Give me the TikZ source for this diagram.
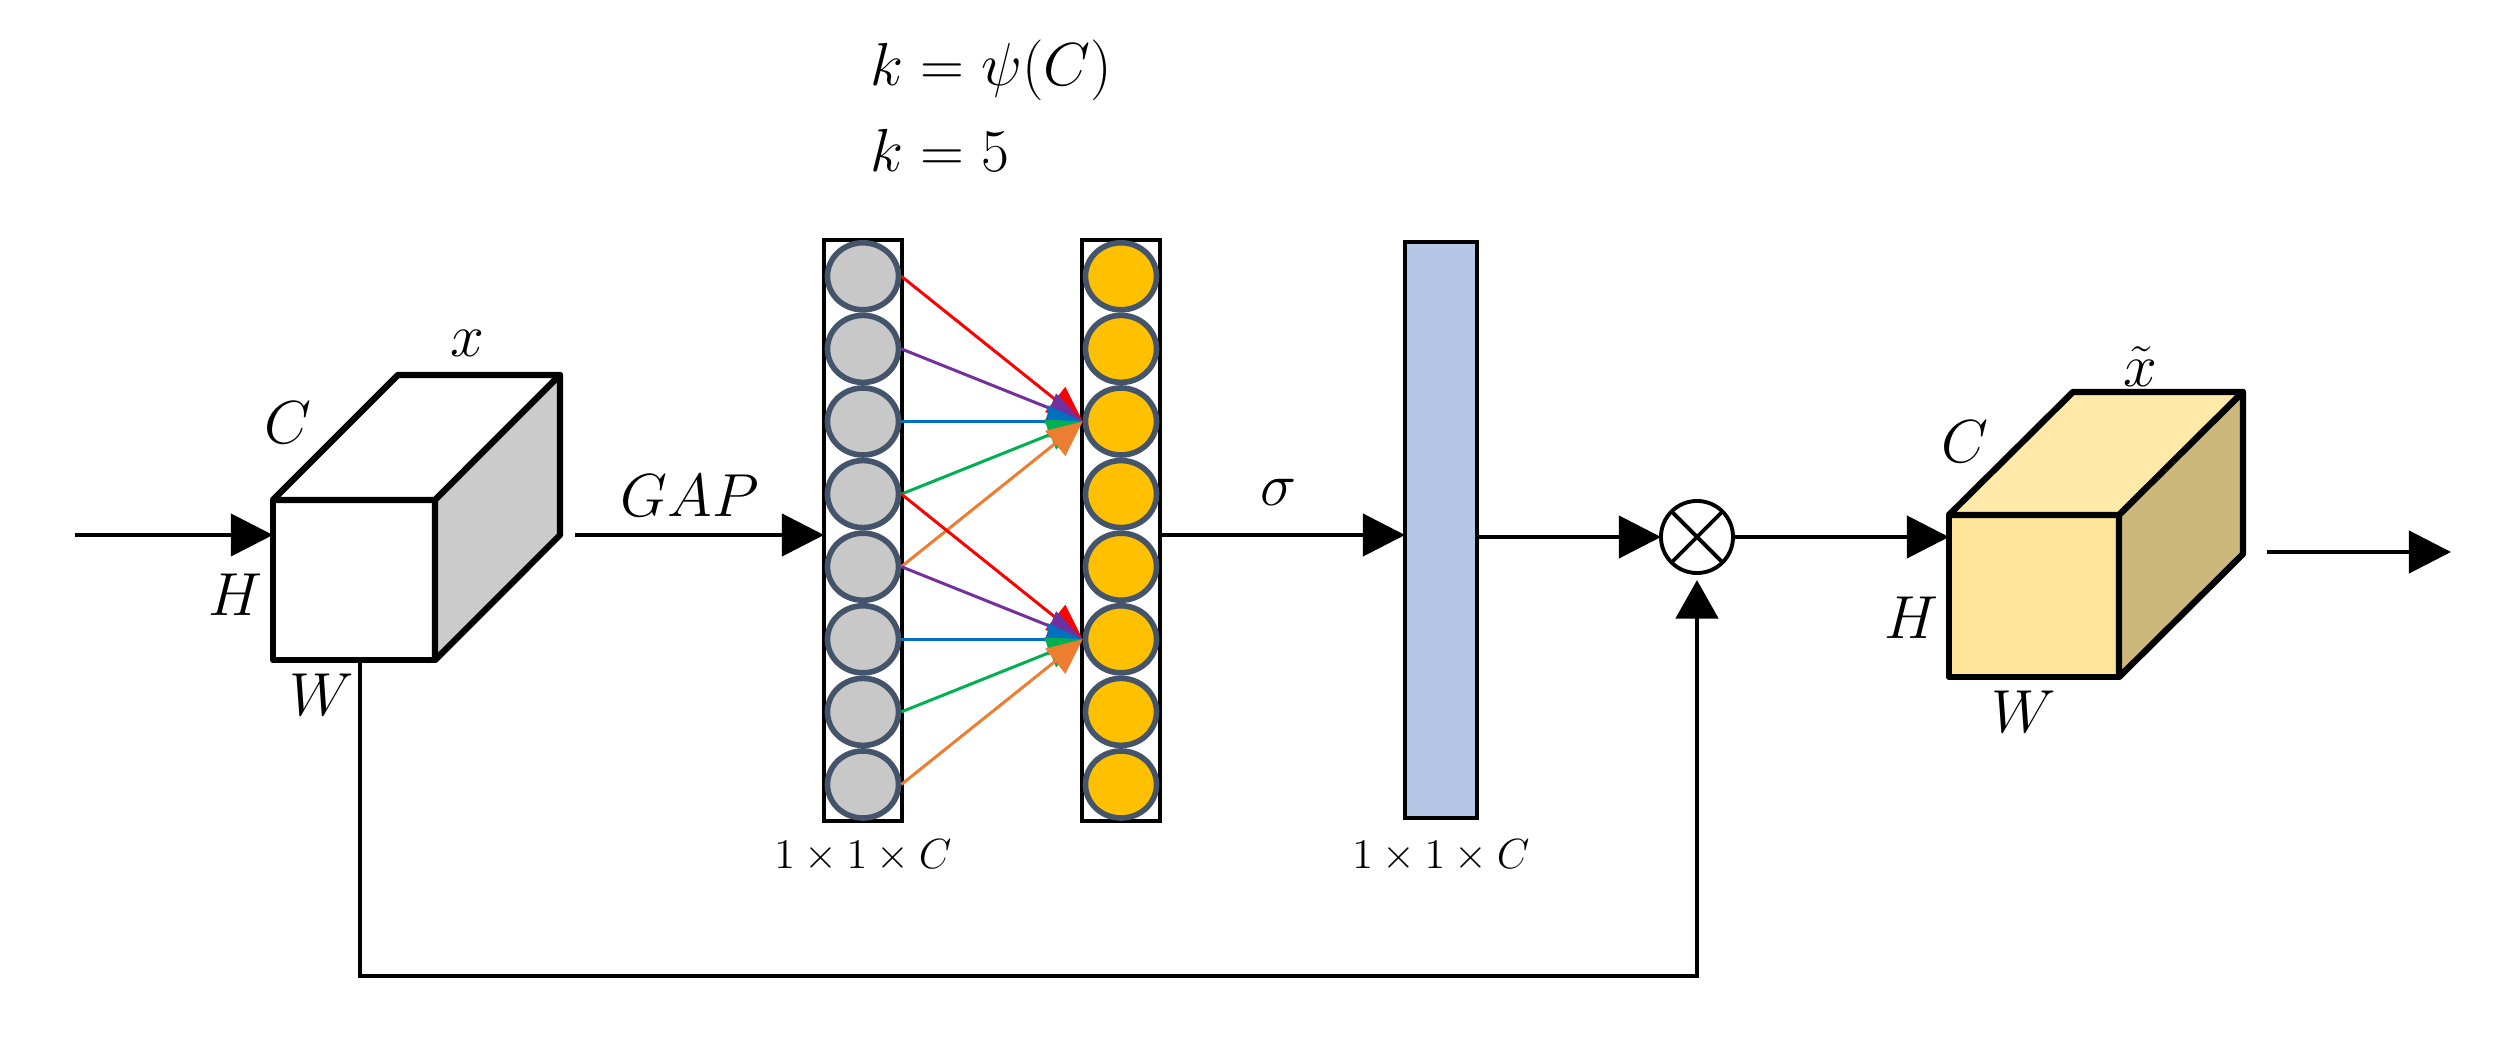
\documentclass[tikz,border=0pt]{standalone}
\usetikzlibrary{arrows.meta,shapes.geometric}
\definecolor{slate}{HTML}{44546A}
\definecolor{neurongray}{HTML}{C8C8C8}
\definecolor{neurongold}{HTML}{FFC000}
\definecolor{barblue}{HTML}{B4C7E7}
\definecolor{sidegray}{HTML}{CBCBCB}
\definecolor{goldfront}{HTML}{FFE599}
\definecolor{goldtop}{HTML}{FFE9A9}
\definecolor{goldside}{HTML}{CDB87B}
\definecolor{kred}{HTML}{FF0000}
\definecolor{kpurple}{HTML}{7030A0}
\definecolor{kblue}{HTML}{0070C0}
\definecolor{kgreen}{HTML}{00B050}
\definecolor{korange}{HTML}{ED7D31}
\begin{document}
\begin{tikzpicture}[x=0.01cm,y=-0.01cm,
  flow/.style={line width=1.15pt,-{Triangle[length=12pt,width=12pt]}},
  cubeedge/.style={line width=1.8pt, line join=round},
  lbl/.style={font=\fontsize{17}{20}\selectfont, inner sep=0pt},
  dimlbl/.style={font=\fontsize{12}{14}\selectfont, inner sep=0pt},
  neuron/.style={ellipse, draw=slate, line width=1.6pt, minimum width=0.71cm, minimum height=0.67cm, inner sep=0pt},
  colbox/.style={draw=black, line width=1pt, fill=white, minimum width=0.78cm, minimum height=5.81cm, inner sep=0pt, outer sep=0pt},
  kern/.style={line width=0.85pt,-{Triangle[length=10pt,width=9pt]}}
]
\useasboundingbox (0,0) rectangle (2493,1037);

% ---------- input cube ----------
\node[cubeedge, draw, fill=white, minimum width=1.62cm, minimum height=1.60cm, inner sep=0pt, outer sep=0pt] (cubeA) at (354,580) {};
\draw[cubeedge, fill=white] (cubeA.north west) -- ++(125,-125) -- ++(162,0) -- (cubeA.north east) -- cycle;
\draw[cubeedge, fill=sidegray] (cubeA.north east) -- ++(125,-125) -- ++(0,160) -- (cubeA.south east) -- cycle;
\node[lbl] (lx) at (467,343) {$x$};
\node[lbl] (lcA) at (288,423) {$C$};
\node[lbl] (lhA) at (235,595) {$H$};
\node[lbl] (lwA) at (322,695) {$W$};

% ---------- columns ----------
\node[colbox] (colL) at (863,530.5) {};
\node[colbox] (colR) at (1121,530.5) {};
\foreach \i in {1,...,8} {
  \node[neuron, fill=neurongray] (l\i) at (863,{276.3+72.6*(\i-1)}) {};
  \node[neuron, fill=neurongold] (r\i) at (1121,{276.3+72.6*(\i-1)}) {};
}
% kernel connections
\draw[kern, kred] (l1.east) -- (r3.west);
\draw[kern, kpurple] (l2.east) -- (r3.west);
\draw[kern, kblue] (l3.east) -- (r3.west);
\draw[kern, kgreen] (l4.east) -- (r3.west);
\draw[kern, korange] (l5.east) -- (r3.west);
\draw[kern, kred] (l4.east) -- (r6.west);
\draw[kern, kpurple] (l5.east) -- (r6.west);
\draw[kern, kblue] (l6.east) -- (r6.west);
\draw[kern, kgreen] (l7.east) -- (r6.west);
\draw[kern, korange] (l8.east) -- (r6.west);

\node[dimlbl] (dimL) at (863,856) {$1\times1\times C$};
\node[lbl, anchor=west] (keq) at (870,70) {$k=\psi(C)$};
\node[lbl, anchor=west] (kval) at (870,150) {$k=5$};

% ---------- attention bar ----------
\node[draw=black, line width=1pt, fill=barblue, minimum width=0.72cm, minimum height=5.76cm, inner sep=0pt, outer sep=0pt] (bar) at (1441,530) {};
\node[dimlbl] (dimB) at (1441,856) {$1\times1\times C$};

% ---------- multiply ----------
\node[circle, draw, line width=1.1pt, minimum size=0.72cm, inner sep=0pt, outer sep=0pt, fill=white] (ot) at (1697,537) {};
\draw[line width=1.1pt] (ot.north west) -- (ot.south east) (ot.north east) -- (ot.south west);

% ---------- output cube ----------
\node[cubeedge, draw, fill=goldfront, minimum width=1.70cm, minimum height=1.62cm, inner sep=0pt, outer sep=0pt] (cubeB) at (2034,596) {};
\draw[cubeedge, fill=goldtop] (cubeB.north west) -- ++(124,-123) -- ++(170,0) -- (cubeB.north east) -- cycle;
\draw[cubeedge, fill=goldside] (cubeB.north east) -- ++(124,-123) -- ++(0,162) -- (cubeB.south east) -- cycle;
\node[lbl] (lxt) at (2140,367) {$\tilde{x}$};
\node[lbl] (lcB) at (1965,442) {$C$};
\node[lbl] (lhB) at (1911,618) {$H$};
\node[lbl] (lwB) at (2024,712) {$W$};

% ---------- flow connectors ----------
\coordinate (inp) at (75,535);
\draw[flow] (inp) -- (inp -| cubeA.west);
\coordinate (gapstart) at (575,535);
\draw[flow] (gapstart) -- (gapstart -| colL.west);
\node[lbl] (gap) at (690,496) {$GAP$};
\draw[flow] (colR.east |- gapstart) -- (bar.west |- gapstart);
\node[lbl] (sig) at (1278,492) {$\sigma$};
\draw[flow] (bar.east |- ot) -- (ot.west);
\draw[flow] (ot.east) -- (ot.east -| cubeB.west);
\coordinate (outs) at (2267,552);
\coordinate (oute) at (2451,552);
\draw[flow] (outs) -- (oute);
\coordinate (sk) at (360,976);
\draw[line width=1.4pt,-{Triangle[length=11pt,width=12pt]},shorten >=2pt] (sk |- cubeA.south) -- (sk) -| (ot.south);
\end{tikzpicture}
\end{document}
